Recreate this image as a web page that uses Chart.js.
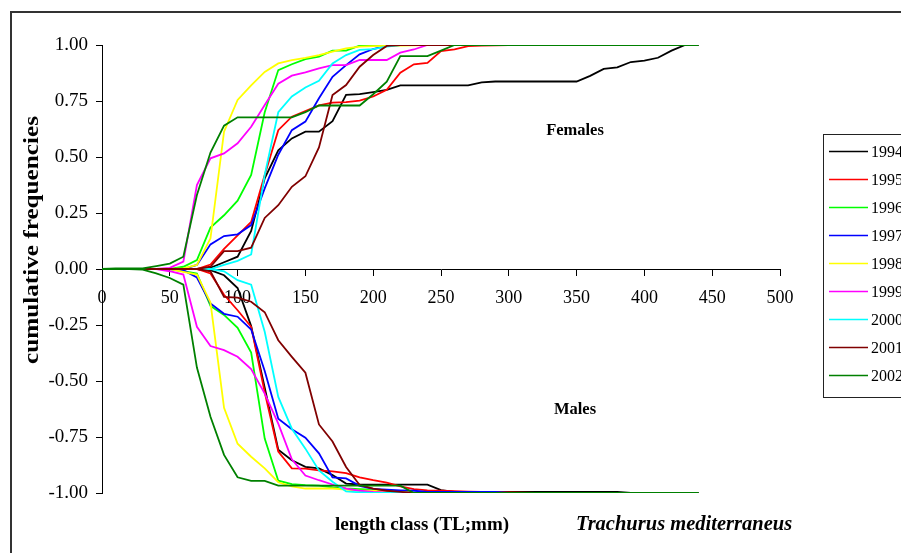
<!DOCTYPE html>
<html>
<head>
<meta charset="utf-8">
<script src="https://cdn.jsdelivr.net/npm/chart.js@4.4.0/dist/chart.umd.min.js"></script>
<style>
html, body { margin: 0; padding: 0; background: #fff; }
</style>
</head>
<body>
<canvas id="myChart" width="901" height="553"></canvas>
<script>
// length classes (TL, mm)
const lengths = [0,10,20,30,40,50,60,70,80,90,100,110,120,130,140,150,160,170,180,190,200,210,220,230,240,250,260,270,280,290,300,310,320,330,340,350,360,370,380,390,400,410,420,430,440];

const years = ['1994','1995','1996','1997','1998','1999','2000','2001','2002'];
const yearColors = ['#000000','#ff0000','#00ff00','#0000ff','#ffff00','#ff00ff','#00ffff','#800000','#008000'];

// females (cumulative frequencies)
const f1994 = [0,0,0,0,0,0,0,0,0.005,0.03,0.055,0.17,0.405,0.53,0.583,0.613,0.613,0.66,0.777,0.781,0.79,0.8,0.82,0.82,0.82,0.82,0.82,0.82,0.833,0.837,0.837,0.837,0.837,0.837,0.837,0.837,0.862,0.893,0.9,0.924,0.93,0.943,0.975,1,1];
const f1995 = [0,0,0,0,0,0,0,0,0.02,0.09,0.15,0.21,0.42,0.62,0.68,0.705,0.73,0.743,0.745,0.752,0.77,0.8,0.876,0.914,0.92,0.973,0.98,0.995,0.997,0.998,0.999,1,1,1,1,1,1,1,1,1,1,1,1,1,1];
const f1996 = [0,0,0,0,0,0,0.01,0.04,0.185,0.24,0.305,0.42,0.7,0.888,0.914,0.937,0.948,0.975,0.975,0.997,1,1,1,1,1,1,1,1,1,1,1,1,1,1,1,1,1,1,1,1,1,1,1,1,1];
const f1997 = [0,0,0,0,0,0,0,0.018,0.11,0.147,0.155,0.196,0.36,0.51,0.62,0.658,0.762,0.858,0.91,0.958,0.982,0.997,1,1,1,1,1,1,1,1,1,1,1,1,1,1,1,1,1,1,1,1,1,1,1];
const f1998 = [0,0,0,0,0,0,0.003,0.018,0.137,0.613,0.755,0.82,0.88,0.918,0.933,0.943,0.955,0.97,0.985,0.993,0.995,0.996,0.997,0.998,1,1,1,1,1,1,1,1,1,1,1,1,1,1,1,1,1,1,1,1,1];
const f1999 = [0,0,0,0,0,0.005,0.033,0.375,0.494,0.516,0.561,0.635,0.732,0.827,0.863,0.878,0.896,0.91,0.91,0.933,0.933,0.933,0.966,0.98,1,1,1,1,1,1,1,1,1,1,1,1,1,1,1,1,1,1,1,1,1];
const f2000 = [0,0,0,0,0,0,0,0,0,0.018,0.036,0.065,0.42,0.7,0.77,0.81,0.84,0.918,0.955,0.978,0.982,0.993,1,1,1,1,1,1,1,1,1,1,1,1,1,1,1,1,1,1,1,1,1,1,1];
const f2001 = [0,0,0,0,0,0,0,0,0.01,0.08,0.08,0.095,0.228,0.285,0.367,0.414,0.543,0.777,0.821,0.903,0.955,0.996,1,1,1,1,1,1,1,1,1,1,1,1,1,1,1,1,1,1,1,1,1,1,1];
const f2002 = [0,0.003,0.003,0.003,0.013,0.024,0.055,0.33,0.52,0.64,0.677,0.677,0.677,0.677,0.677,0.7,0.73,0.73,0.73,0.73,0.78,0.836,0.95,0.95,0.95,0.975,1,1,1,1,1,1,1,1,1,1,1,1,1,1,1,1,1,1,1];

// males (plotted as negative cumulative frequencies)
const m1994 = [0,0,0,0,0,0,0,0,-0.005,-0.028,-0.085,-0.255,-0.53,-0.807,-0.854,-0.883,-0.89,-0.92,-0.958,-0.962,-0.963,-0.963,-0.963,-0.963,-0.963,-0.987,-0.995,-0.995,-0.995,-0.995,-0.995,-0.995,-0.995,-0.995,-0.995,-0.995,-0.995,-0.995,-0.995,-1,-1,-1,-1,-1,-1];
const m1995 = [0,0,0,0,0,0,0,0,-0.02,-0.115,-0.184,-0.258,-0.55,-0.815,-0.89,-0.891,-0.899,-0.903,-0.911,-0.93,-0.943,-0.954,-0.97,-0.983,-0.988,-0.99,-0.992,-0.994,-0.995,-0.996,-0.997,-0.998,-1,-1,-1,-1,-1,-1,-1,-1,-1,-1,-1,-1,-1];
const m1996 = [0,0,0,0,0,0,-0.01,-0.02,-0.165,-0.205,-0.263,-0.373,-0.757,-0.945,-0.96,-0.965,-0.967,-0.975,-0.98,-0.983,-0.985,-0.99,-0.995,-1,-1,-1,-1,-1,-1,-1,-1,-1,-1,-1,-1,-1,-1,-1,-1,-1,-1,-1,-1,-1,-1];
const m1997 = [0,0,0,0,0,0,-0.005,-0.038,-0.154,-0.2,-0.213,-0.27,-0.455,-0.668,-0.715,-0.753,-0.823,-0.93,-0.935,-0.968,-0.982,-0.985,-0.988,-0.99,-0.995,-0.995,-0.995,-0.995,-0.995,-0.995,-1,-1,-1,-1,-1,-1,-1,-1,-1,-1,-1,-1,-1,-1,-1];
const m1998 = [0,0,0,0,0,0,-0.013,-0.025,-0.15,-0.62,-0.78,-0.838,-0.89,-0.952,-0.97,-0.98,-0.98,-0.98,-0.985,-0.99,-0.99,-0.995,-0.997,-1,-1,-1,-1,-1,-1,-1,-1,-1,-1,-1,-1,-1,-1,-1,-1,-1,-1,-1,-1,-1,-1];
const m1999 = [0,0,0,0,0,-0.01,-0.025,-0.258,-0.344,-0.362,-0.392,-0.447,-0.556,-0.69,-0.85,-0.922,-0.943,-0.962,-0.98,-0.99,-0.995,-0.997,-1,-1,-1,-1,-1,-1,-1,-1,-1,-1,-1,-1,-1,-1,-1,-1,-1,-1,-1,-1,-1,-1,-1];
const m2000 = [0,0,0,0,0,0,0,0,0,-0.01,-0.05,-0.07,-0.28,-0.571,-0.713,-0.802,-0.899,-0.95,-0.993,-0.997,-1,-1,-1,-1,-1,-1,-1,-1,-1,-1,-1,-1,-1,-1,-1,-1,-1,-1,-1,-1,-1,-1,-1,-1,-1];
const m2001 = [0,0,0,0,0,0,0,0,-0.01,-0.125,-0.128,-0.146,-0.193,-0.318,-0.392,-0.463,-0.694,-0.77,-0.884,-0.964,-0.98,-0.99,-0.995,-1,-1,-1,-1,-1,-1,-1,-1,-1,-1,-1,-1,-1,-1,-1,-1,-1,-1,-1,-1,-1,-1];
const m2002 = [0,0,0,-0.003,-0.02,-0.04,-0.07,-0.44,-0.66,-0.83,-0.93,-0.946,-0.946,-0.967,-0.967,-0.967,-0.967,-0.967,-0.967,-0.967,-0.967,-0.967,-0.967,-1,-1,-1,-1,-1,-1,-1,-1,-1,-1,-1,-1,-1,-1,-1,-1,-1,-1,-1,-1,-1,-1];

const females = [f1994, f1995, f1996, f1997, f1998, f1999, f2000, f2001, f2002];
const males = [m1994, m1995, m1996, m1997, m1998, m1999, m2000, m2001, m2002];

const serif = '"Liberation Serif", "Times New Roman", serif';

function toPoints(values) {
    return values.map((v, i) => ({ x: lengths[i], y: v }));
}

const datasets = [];
years.forEach((yr, i) => {
    [females[i], males[i]].forEach((vals, k) => {
        datasets.push({
            label: yr + (k === 0 ? ' F' : ' M'),
            data: toPoints(vals),
            borderColor: yearColors[i],
            backgroundColor: yearColors[i],
            borderWidth: 1.8,
            pointRadius: 0,
            tension: 0,
            fill: false,
            order: 20 - i   // later years drawn on top
        });
    });
});

// texts, legend box and outer frame
const decorPlugin = {
    id: 'decor',
    afterDraw(chart) {
        const ctx = chart.ctx;
        ctx.save();

        // outer frame
        ctx.strokeStyle = '#333';
        ctx.lineWidth = 2;
        ctx.strokeRect(11, 12, 1000, 1000);

        ctx.fillStyle = '#000';
        ctx.textAlign = 'center';
        ctx.textBaseline = 'middle';

        // y title (stretched along its length like the original)
        ctx.save();
        ctx.translate(33, 240);
        ctx.rotate(-Math.PI / 2);
        ctx.scale(1.2, 1);
        ctx.font = 'bold 21px ' + serif;
        ctx.fillText('cumulative frequencies', 0, 0);
        ctx.restore();

        ctx.font = 'bold 16.5px ' + serif;
        ctx.fillText('Females', 575, 131);
        ctx.fillText('Males', 575, 410);

        ctx.font = 'bold 19px ' + serif;
        ctx.fillText('length class (TL;mm)', 422, 525);

        ctx.font = 'italic bold 20.5px ' + serif;
        ctx.fillText('Trachurus mediterraneus', 684, 525);

        // legend
        ctx.strokeStyle = '#222';
        ctx.lineWidth = 1;
        ctx.strokeRect(823.5, 134.5, 200, 263);
        ctx.font = '16px ' + serif;
        ctx.textAlign = 'left';
        years.forEach((yr, i) => {
            const y = 151.5 + i * 28;
            ctx.strokeStyle = yearColors[i];
            ctx.lineWidth = 1.5;
            ctx.beginPath();
            ctx.moveTo(829, y);
            ctx.lineTo(868, y);
            ctx.stroke();
            ctx.fillStyle = '#000';
            ctx.fillText(yr, 871, y + 1);
        });

        ctx.restore();
    }
};

new Chart(document.getElementById('myChart').getContext('2d'), {
    type: 'line',
    data: { datasets: datasets },
    options: {
        responsive: false,
        animation: false,
        layout: { padding: { left: 0, top: 45, right: 121, bottom: 60 } },
        plugins: {
            legend: { display: false },
            tooltip: { enabled: false }
        },
        scales: {
            x: {
                type: 'linear',
                position: { y: 0 },
                min: 0,
                max: 500,
                ticks: {
                    stepSize: 50,
                    color: '#000',
                    padding: 12,
                    maxRotation: 0,
                    font: { family: serif, size: 18 }
                },
                grid: { drawOnChartArea: false, drawTicks: true, tickLength: 6, color: '#000' },
                border: { display: true, color: '#000', width: 1 }
            },
            y: {
                min: -1,
                max: 1,
                afterFit(scale) { scale.width = 102; },
                ticks: {
                    stepSize: 0.25,
                    color: '#000',
                    padding: 8,
                    font: { family: serif, size: 19 },
                    callback: (v) => v.toFixed(2)
                },
                grid: { drawOnChartArea: false, drawTicks: true, tickLength: 6, color: '#000' },
                border: { display: true, color: '#000', width: 1 }
            }
        }
    },
    plugins: [decorPlugin]
});
</script>
</body>
</html>
